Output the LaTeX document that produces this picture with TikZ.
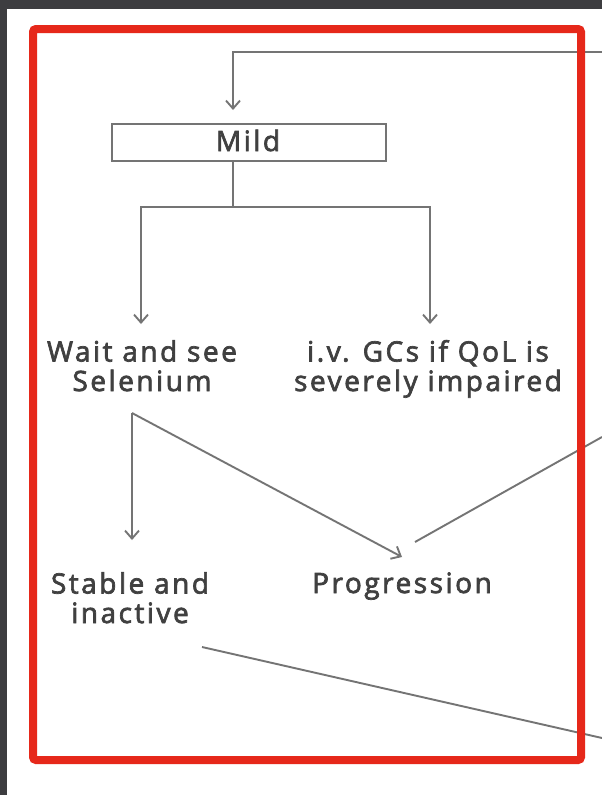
\documentclass[tikz,border=0pt]{standalone}
\usepackage{fontspec}
\usetikzlibrary{arrows.meta}
\newfontfamily\labelfont{Open Sans}[LetterSpace=9,FakeBold=2.5]
\definecolor{frame}{HTML}{3D3D40}
\definecolor{hilite}{HTML}{E6281A}
\definecolor{wire}{HTML}{747474}
\definecolor{ink}{HTML}{404040}
\tikzset{
  label text/.style={font=\labelfont\fontsize{28}{29.5}\selectfont, text=ink,
    align=center, inner sep=0pt, anchor=base},
  stepbox/.style={draw=wire, line width=1.9pt, minimum width=274pt,
    minimum height=37pt, inner sep=0pt},
  wireline/.style={draw=wire, line width=1.9pt},
  flow/.style={wireline, -{Straight Barb[length=8pt,width=14pt,line width=1.9pt]}}
}
\begin{document}
\begin{tikzpicture}[x=1pt,y=-1pt]
\useasboundingbox (0,0) rectangle (602,795);
% page and viewer edges
\fill[white] (0,0) rectangle (602,795);
\fill[frame] (0,0) rectangle (602,9);
\fill[frame] (0,0) rectangle (7,795);

% nodes (base anchor sits on the last line of each label)
\node[stepbox] (mild) at (249,142.5) {};
\node[label text] (mildtxt) at (248,151) {Mild};
\node[label text] (wait) at (142,391) {Wait and see\\Selenium};
\node[label text] (ivgc) at (428,391) {i.v. GCs if QoL is\\severely impaired};
\node[label text] (stable) at (130,623) {Stable and\\inactive};
\node[label text] (prog) at (402,593) {Progression};

% connector end points
\coordinate (inright) at (602,52);
\coordinate (mildin) at (233,110);
\coordinate (split) at (233,207);
\coordinate (waitin) at (141,324);
\coordinate (ivgcin) at (430,324);
\coordinate (waitout) at (132,413);
\coordinate (stablein) at (132,540);
\coordinate (progin) at (402,557);
\coordinate (progout) at (415,542);
\coordinate (toright) at (602,437);
\coordinate (stableout) at (202,647);
\coordinate (toright2) at (602,738);

% connectors
\draw[flow] (inright) -| (mildin);
\draw[wireline] (mild.south -| split) -- (split);
\draw[flow] (split) -| (waitin);
\draw[flow] (split) -| (ivgcin);
\draw[flow] (waitout) -- (stablein);
\draw[flow] (waitout) -- (progin);
\draw[wireline] (progout) -- (toright);
\draw[wireline] (stableout) -- (toright2);

% highlight frame
\draw[hilite, line width=8pt, rounded corners=3pt] (33,29) rectangle (581,760);
\end{tikzpicture}
\end{document}
